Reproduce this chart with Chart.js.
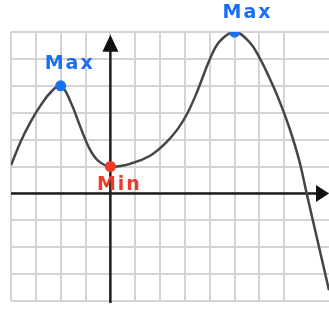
<!DOCTYPE html>
<html>
<head>
<meta charset="utf-8">
<script src="https://cdn.jsdelivr.net/npm/chart.js@4.4.1/dist/chart.umd.min.js"></script>
<style>
  html, body { margin: 0; padding: 0; background: #ffffff; overflow: hidden; }
  #wrap { width: 329px; height: 312px; position: relative; }
  canvas { display: block; }
</style>
</head>
<body>
<div id="wrap"><canvas id="curveChart"></canvas></div>
<script>
// curve points (grid units)
var curveX = [-4, -3.6, -3.2, -2.8, -2.4, -2, -1.6, -1.2, -0.85, -0.5, 0, 0.8, 1.6, 2.2, 2.7, 3.1, 3.5, 4.0, 4.4, 5, 5.6, 6.0, 6.4, 6.8, 7.2, 7.6, 7.9, 8.8];
var curveY = [1.05, 1.95, 2.68, 3.28, 3.76, 4.0, 3.4, 2.45, 1.68, 1.22, 1.0, 1.1, 1.4, 1.85, 2.38, 2.98, 3.8, 4.98, 5.65, 6.0, 5.62, 5.05, 4.3, 3.45, 2.45, 1.23, 0, -3.6];

// marked extrema
var markLabels = ['Max', 'Min', 'Max'];
var markX = [-2, 0, 5];
var markY = [4, 1, 6];
var markColors = ['#1a6ff2', '#ee3a26', '#1a6ff2'];

var xMin = -4, xMax = 8.8, yMin = -4, yMax = 6;

var curveData = curveX.map(function(x, i) { return { x: x, y: curveY[i] }; });
var markData = markX.map(function(x, i) { return { x: x, y: markY[i] }; });

function gridColor(c) {
    // only whole units get a grid line
    return Number.isInteger(c.tick.value) ? '#d4d4d4' : 'rgba(0,0,0,0)';
}

// axes with arrow heads + labels
var axesPlugin = {
    id: 'axesArrows',
    beforeDatasetsDraw: function(chart) {
        var ctx = chart.ctx;
        var xs = chart.scales.x, ys = chart.scales.y;
        var ox = xs.getPixelForValue(0), oy = ys.getPixelForValue(0);
        var area = chart.chartArea;
        ctx.save();
        ctx.strokeStyle = '#1e1e1e';
        ctx.fillStyle = '#111111';
        ctx.lineWidth = 2.5;
        // x axis
        ctx.beginPath();
        ctx.moveTo(area.left, oy);
        ctx.lineTo(area.right - 8, oy);
        ctx.stroke();
        ctx.beginPath();
        ctx.moveTo(area.right, oy);
        ctx.lineTo(area.right - 13, oy - 8.5);
        ctx.lineTo(area.right - 13, oy + 8.5);
        ctx.closePath();
        ctx.fill();
        // y axis
        var tip = ys.getPixelForValue(5.9);
        ctx.beginPath();
        ctx.moveTo(ox, area.bottom + 2);
        ctx.lineTo(ox, tip + 8);
        ctx.stroke();
        ctx.beginPath();
        ctx.moveTo(ox, tip);
        ctx.lineTo(ox - 8, tip + 17);
        ctx.lineTo(ox + 8, tip + 17);
        ctx.closePath();
        ctx.fill();
        ctx.restore();
    },
    afterDatasetsDraw: function(chart) {
        var ctx = chart.ctx;
        var xs = chart.scales.x, ys = chart.scales.y;
        var offsets = [[9, -22], [9, 19], [13, -19]];
        ctx.save();
        ctx.font = 'bold 19px "DejaVu Sans"';
        ctx.letterSpacing = '2px';
        ctx.textAlign = 'center';
        ctx.textBaseline = 'middle';
        for (var i = 0; i < markLabels.length; i++) {
            ctx.fillStyle = markColors[i];
            ctx.fillText(markLabels[i],
                xs.getPixelForValue(markX[i]) + offsets[i][0],
                ys.getPixelForValue(markY[i]) + offsets[i][1]);
        }
        ctx.restore();
    }
};

new Chart(document.getElementById('curveChart').getContext('2d'), {
    type: 'scatter',
    data: {
        datasets: [{
            data: markData,
            showLine: false,
            pointRadius: 5.5,
            pointBackgroundColor: markColors,
            pointBorderWidth: 0,
            order: 0
        }, {
            data: curveData,
            showLine: true,
            borderColor: '#454545',
            borderWidth: 2.5,
            pointRadius: 0,
            tension: 0.4,
            fill: false,
            order: 1
        }]
    },
    options: {
        responsive: true,
        maintainAspectRatio: false,
        animation: false,
        layout: { autoPadding: false, padding: { left: 11, top: 32, right: 0, bottom: 11 } },
        plugins: {
            legend: { display: false },
            tooltip: { enabled: false }
        },
        scales: {
            x: {
                type: 'linear',
                min: xMin,
                max: xMax,
                ticks: { display: false, stepSize: 1 },
                border: { display: false },
                grid: { color: gridColor, lineWidth: 2, drawTicks: false }
            },
            y: {
                type: 'linear',
                min: yMin,
                max: yMax,
                ticks: { display: false, stepSize: 1 },
                border: { display: false },
                grid: { color: gridColor, lineWidth: 2, drawTicks: false }
            }
        }
    },
    plugins: [axesPlugin]
});
</script>
</body>
</html>
